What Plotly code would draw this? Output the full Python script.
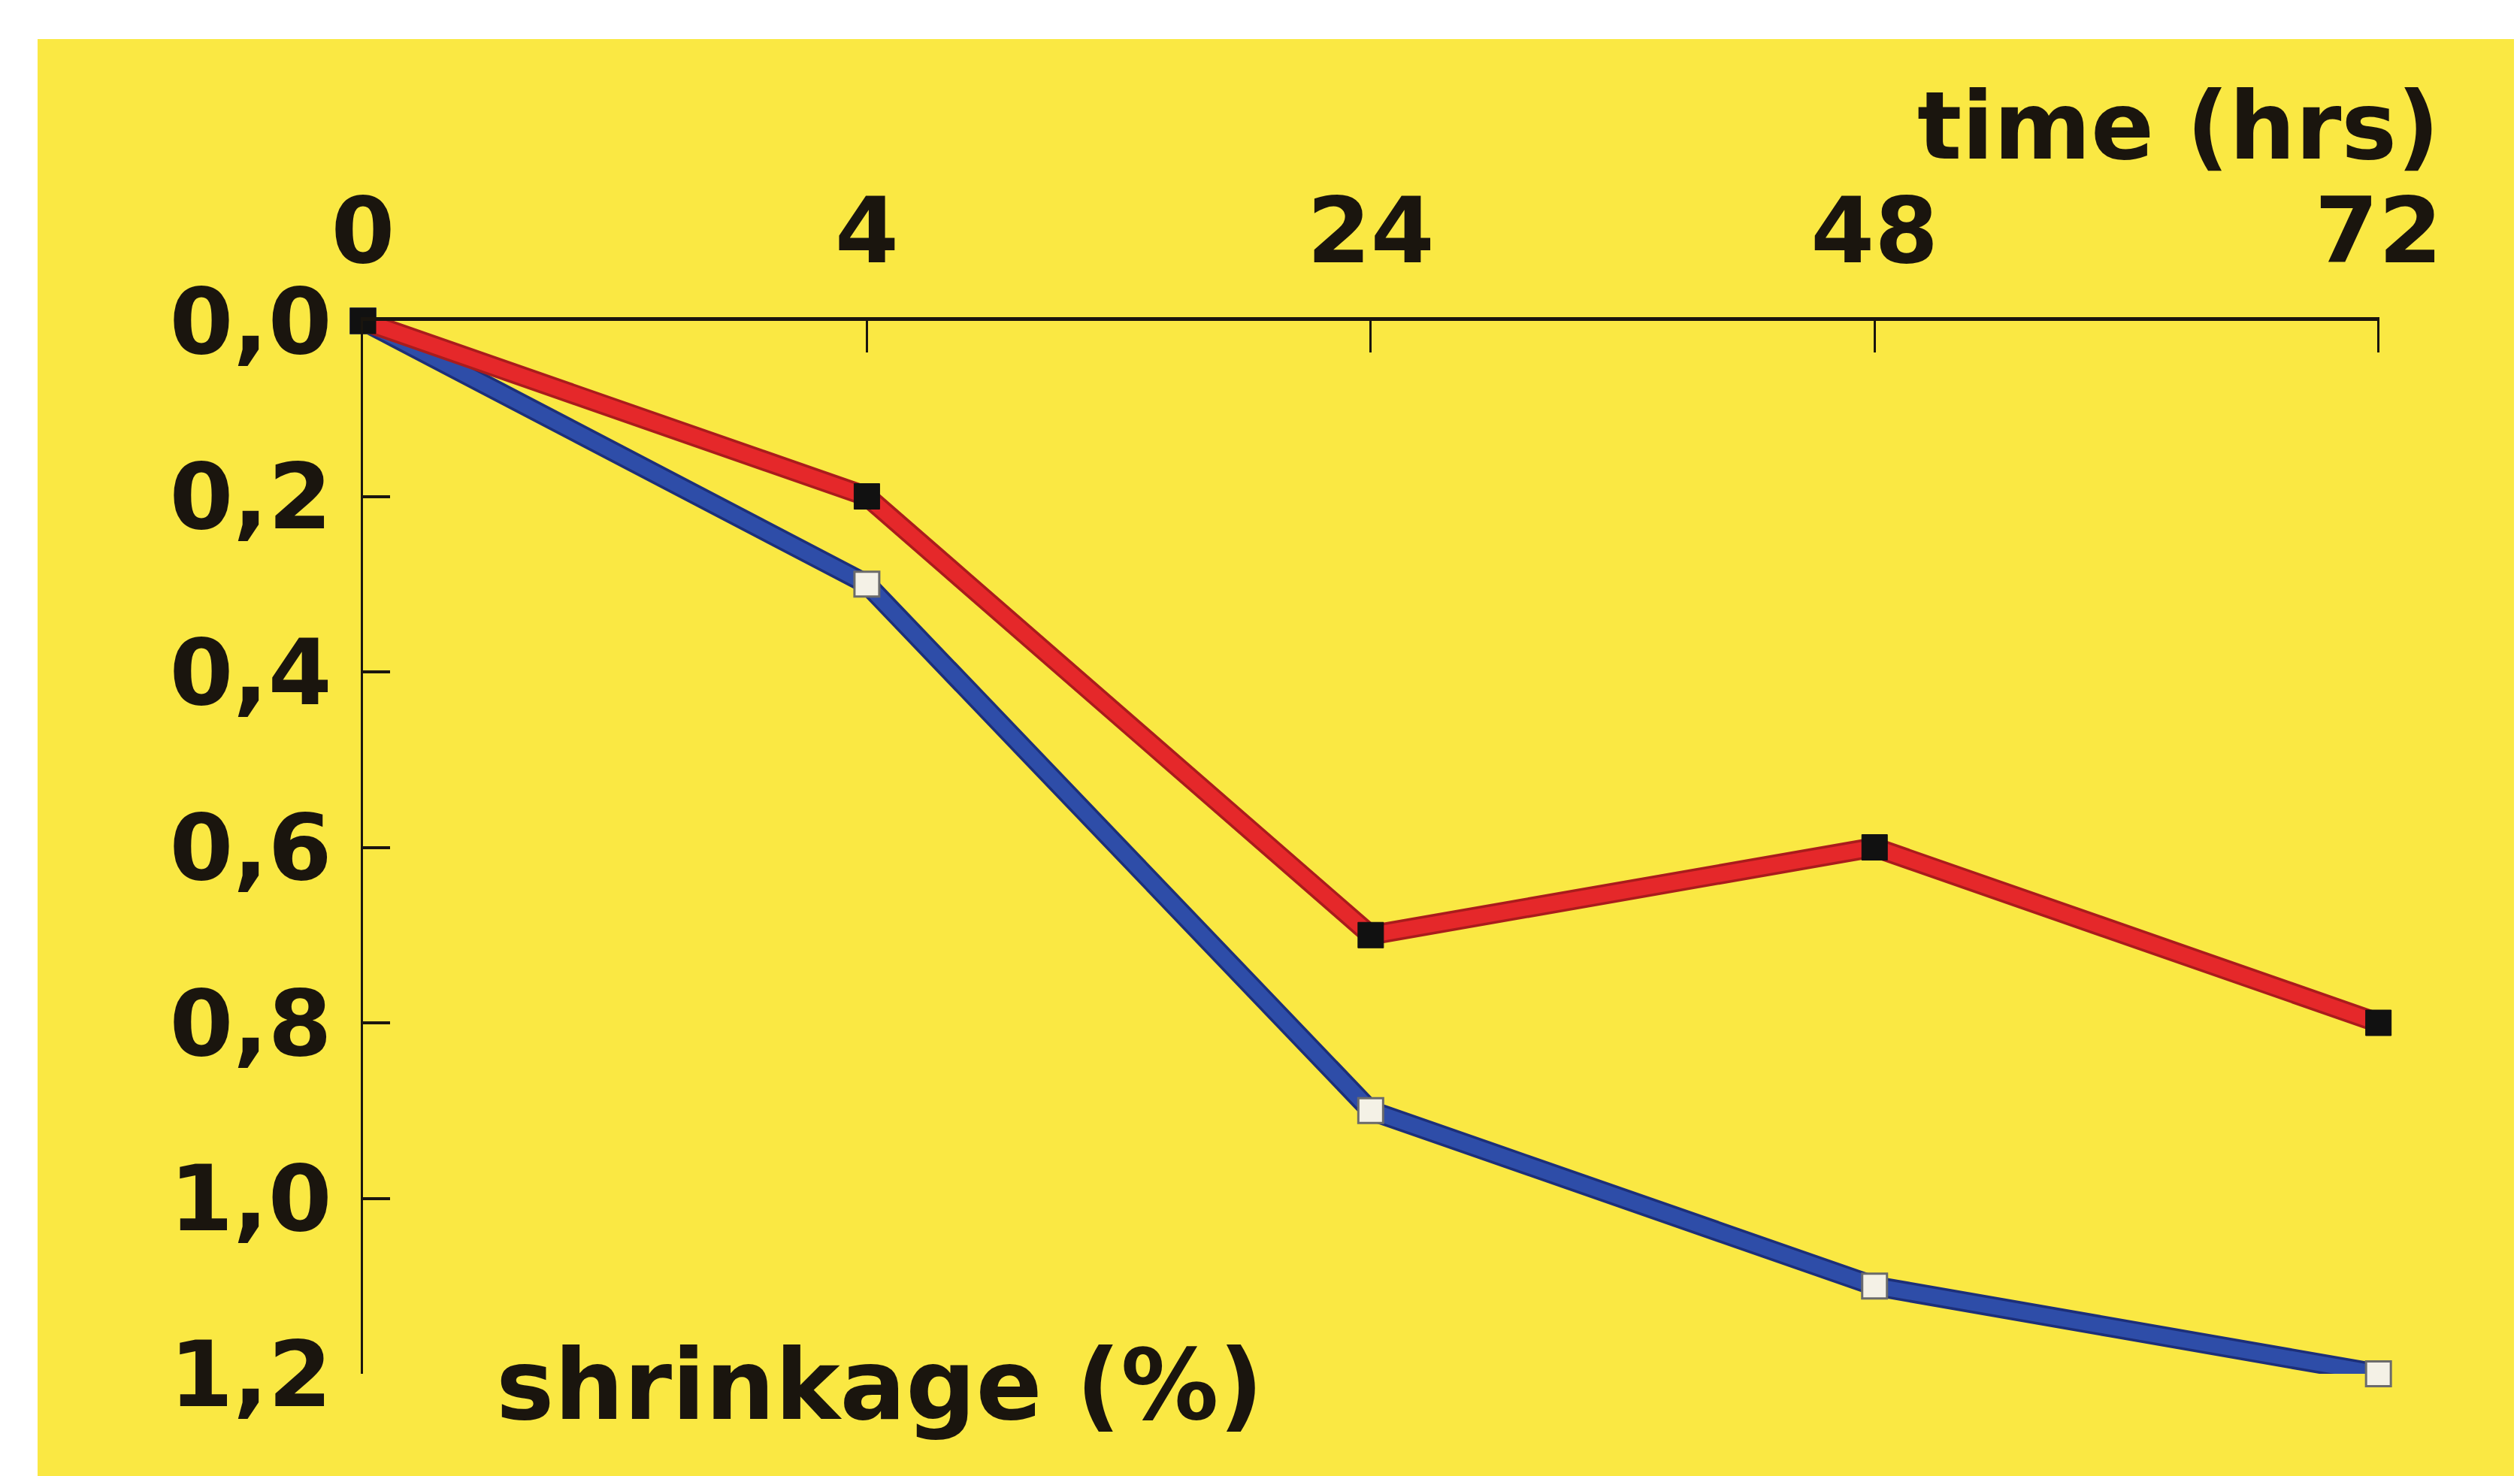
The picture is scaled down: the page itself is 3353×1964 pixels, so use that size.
import plotly.graph_objects as go

# ---- data ----
time_labels = ["0", "4", "24", "48", "72"]
shrink_red = [0.0, 0.2, 0.7, 0.6, 0.8]
shrink_blue = [0.0, 0.3, 0.9, 1.1, 1.2]
y_tickvals = [0.0, 0.2, 0.4, 0.6, 0.8, 1.0, 1.2]
y_ticktext = ["0,0", "0,2", "0,4", "0,6", "0,8", "1,0", "1,2"]

# ---- layout geometry (pixels) ----
W, H = 3353, 1964
L, R, T, B = 475, 3158, 419, 1820
pw, ph = R - L, B - T


def px_x(p):
    return (p - L) / pw


def px_y(p):
    return (B - p) / ph


YELLOW = "#FAE843"
INK = "#1A150E"
FONT = "DejaVu Sans"

fig = go.Figure()

# blue series (outline + core)
fig.add_trace(go.Scatter(x=time_labels, y=shrink_blue, mode="lines",
                         line=dict(color="#1D2F78", width=27), cliponaxis=False,
                         hoverinfo="skip", showlegend=False))
fig.add_trace(go.Scatter(x=time_labels, y=shrink_blue, mode="lines+markers",
                         line=dict(color="#2E4DA8", width=20), cliponaxis=False,
                         marker=dict(symbol="square", size=33, color="#F4F1E6",
                                     line=dict(color="#6B6B6B", width=3)),
                         showlegend=False))
# red series (outline + core)
fig.add_trace(go.Scatter(x=time_labels, y=shrink_red, mode="lines",
                         line=dict(color="#A91C1C", width=27), cliponaxis=False,
                         hoverinfo="skip", showlegend=False))
fig.add_trace(go.Scatter(x=time_labels, y=shrink_red, mode="lines+markers",
                         line=dict(color="#E5282A", width=20), cliponaxis=False,
                         marker=dict(symbol="square", size=34, color="#111111",
                                     line=dict(color="#111111", width=1)),
                         showlegend=False))

fig.update_layout(
    width=W, height=H,
    margin=dict(l=L, r=W - R, t=T, b=H - B, pad=0),
    paper_bgcolor="white",
    plot_bgcolor=YELLOW,
    font=dict(family=FONT, size=124, color=INK),
    showlegend=False,
    xaxis=dict(
        type="category", side="top", range=[0, 4.002],
        showline=True, linecolor=INK, linewidth=5,
        ticks="inside", ticklen=42, tickwidth=3, tickcolor=INK,
        tickfont=dict(family=FONT, size=122, color=INK, weight="bold"),
        ticklabelstandoff=24,
        showgrid=False, zeroline=False, fixedrange=True,
    ),
    yaxis=dict(
        range=[1.2, 0], tickvals=y_tickvals, ticktext=y_ticktext,
        showline=True, linecolor=INK, linewidth=3,
        ticks="inside", ticklen=36, tickwidth=4, tickcolor=INK,
        tickfont=dict(family=FONT, size=122, color=INK, weight="bold"),
        ticklabelstandoff=14,
        showgrid=False, zeroline=False, fixedrange=True,
    ),
    shapes=[dict(type="rect", xref="paper", yref="paper", layer="below",
                 x0=px_x(42), x1=px_x(W + 10), y0=px_y(H + 10), y1=px_y(44),
                 fillcolor=YELLOW, line=dict(width=0))],
    annotations=[
        dict(text="<b>time (hrs)</b>", xref="paper", yref="paper",
             x=px_x(3240), y=px_y(160), xanchor="right", yanchor="middle",
             showarrow=False, font=dict(family=FONT, size=124, color=INK)),
        dict(text="<b>shrinkage (%)</b>", xref="paper", yref="paper",
             x=px_x(650), y=px_y(1835), xanchor="left", yanchor="middle",
             showarrow=False, font=dict(family=FONT, size=130, color=INK)),
    ],
)

fig.write_html("out.html")
